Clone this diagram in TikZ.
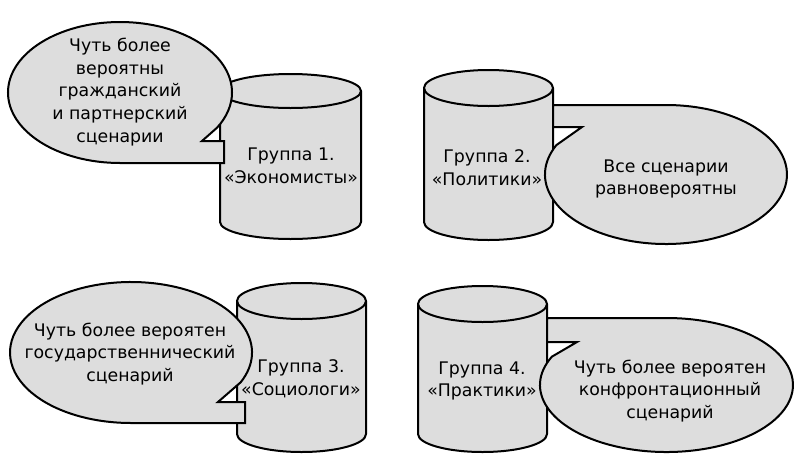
\documentclass[tikz,border=0pt]{standalone}
\usepackage{fontspec}
\setmainfont{DejaVu Sans}
\definecolor{shade}{RGB}{221,221,221}
\newcommand\mycyl[5]{%
  \pgfmathsetmacro\cylrx{(#2-#1)/2}%
  \filldraw[shapefill] (#1,#3) -- (#1,#4)
    arc[start angle=180,end angle=0,x radius=\cylrx,y radius=#5]
    -- (#2,#3)
    arc[start angle=0,end angle=-180,x radius=\cylrx,y radius=#5] -- cycle;
  \draw (#1,#3) arc[start angle=180,end angle=0,x radius=\cylrx,y radius=#5];
}
\begin{document}
\begin{tikzpicture}[x=0.75pt,y=-0.75pt,line width=1.5pt,line join=miter,
  shapefill/.style={fill=shade,draw=black},
  lbl/.style={align=center,font=\fontsize{13}{17.2}\selectfont,inner sep=0pt}]
\useasboundingbox (0,0) rectangle (797,454);

% cylinders
\mycyl{220}{361}{91}{222}{17}
\mycyl{424}{553}{88}{222}{18}
\mycyl{237}{366}{301}{434}{18}
\mycyl{418}{547}{304}{434}{18}

% callouts
\filldraw[shapefill] ([shift={(120,92.5)}]30:112 and 70.5) -- (202,141) -- (224,141) -- (224,163) -- (120,163)
  arc[start angle=90,end angle=390,x radius=112,y radius=70.5] -- cycle;
\filldraw[shapefill] (666,105) -- (553,105) -- (553,127) -- (582,127) -- ([shift={(666,174.5)}]205:121 and 69.5)
  arc[start angle=205,end angle=-90,x radius=121,y radius=69.5] -- cycle;
\filldraw[shapefill] (131,423) -- (245,423) -- (245,402) -- (218,402) -- ([shift={(131,352.5)}]25:121 and 70.5)
  arc[start angle=25,end angle=-270,x radius=121,y radius=70.5] -- cycle;
\filldraw[shapefill] (666.5,318) -- (547,318) -- (547,342) -- (577,342) -- ([shift={(666.5,385)}]205:126.5 and 67)
  arc[start angle=205,end angle=-90,x radius=126.5,y radius=67] -- cycle;

% texts
\node[lbl] (t1) at (120,92) {Чуть более\\вероятны\\гражданский\\и партнерский\\сценарии};
\node[lbl] (g1) at (291,166) {Группа 1.\\«Экономисты»};
\node[lbl] (g2) at (487,168) {Группа 2.\\«Политики»};
\node[lbl] (t2) at (666,179) {Все сценарии\\равновероятны};
\node[lbl] (t3) at (130,354) {Чуть более вероятен\\государственнический\\сценарий};
\node[lbl] (g3) at (301,379) {Группа 3.\\«Социологи»};
\node[lbl] (g4) at (482,381) {Группа 4.\\«Практики»};
\node[lbl] (t4) at (670,391) {Чуть более вероятен\\конфронтационный\\сценарий};
\end{tikzpicture}
\end{document}
